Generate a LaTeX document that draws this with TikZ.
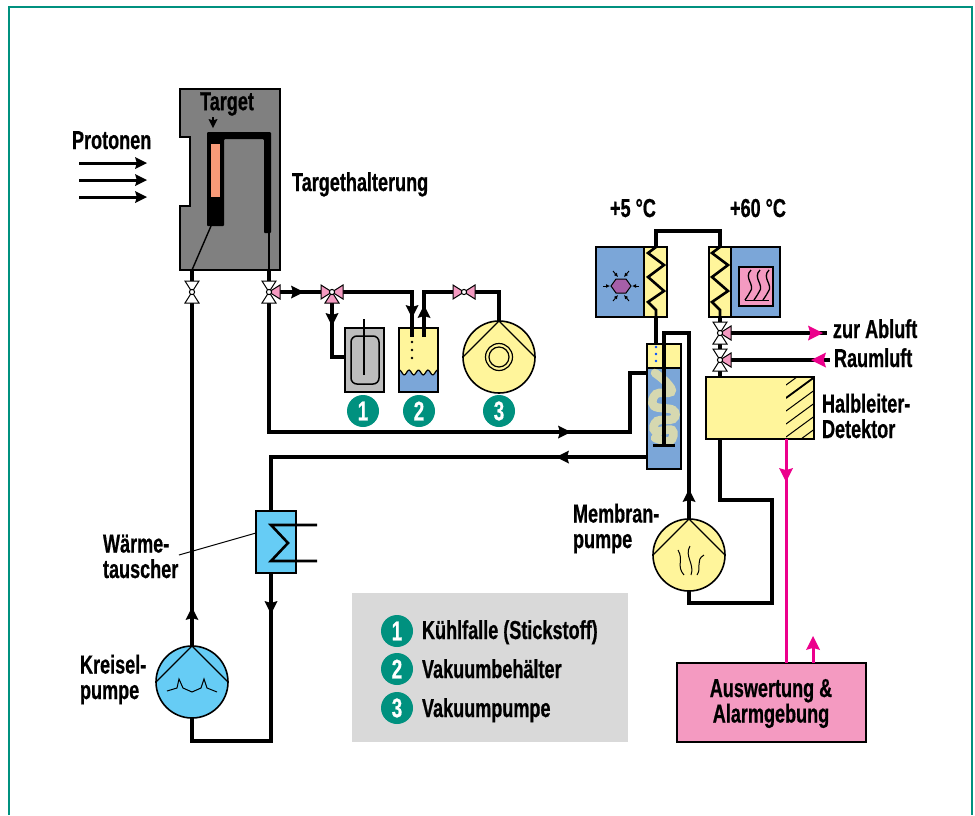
\documentclass[tikz,border=0pt]{standalone}
\usepackage{fontspec}
\setmainfont[FakeStretch=0.695,BoldFeatures={FakeBold=0.6}]{Liberation Sans}
\usetikzlibrary{arrows.meta}
\definecolor{teal1}{HTML}{00917F}
\definecolor{gray1}{HTML}{808080}
\definecolor{gray2}{HTML}{BDBDBD}
\definecolor{gray3}{HTML}{D9D9D9}
\definecolor{yell}{HTML}{FFF59B}
\definecolor{blue1}{HTML}{7BA6D8}
\definecolor{cyan1}{HTML}{66CCF5}
\definecolor{pink1}{HTML}{F49AC1}
\definecolor{mag}{HTML}{EC008C}
\definecolor{salmon1}{HTML}{F79A78}
\definecolor{purp}{HTML}{A55FA8}
\definecolor{coil}{HTML}{D6D8B0}
\tikzset{
  box/.style={draw=black,line width=1.8pt,rectangle,inner sep=0pt,outer sep=0pt},
  pipe/.style={draw=black,line width=3.2pt,line cap=butt,line join=miter},
  thinl/.style={draw=black,line width=1.4pt},
  lbl/.style={font=\fontsize{26}{25.5}\selectfont\bfseries,inner sep=0pt,outer sep=0pt,text=black},
  badge/.style={circle,fill=teal1,minimum size=32pt,inner sep=0pt,text=white,font=\fontsize{27}{27}\selectfont\bfseries},
  pump/.style={circle,draw=black,line width=1.6pt,minimum size=72pt,inner sep=0pt,outer sep=0pt},
  vtri/.style={draw=black,line width=1pt,line join=miter},
}
\newcommand{\ahead}[4][black]{\fill[#1,shift={(#2)},rotate=#3] (0,0) -- (-#4,-#4/2) -- (-#4*0.85,0) -- (-#4,#4/2) -- cycle;}
\newcommand{\vt}[3]{\filldraw[vtri,fill=#3,shift={(#1)},rotate=#2] (0,0) -- (11,-7) -- (11,7) -- cycle;}
\newcommand{\vc}[1]{\filldraw[draw=black,line width=1pt,fill=white] (#1) circle (2.6pt);}
\begin{document}
\begin{tikzpicture}[x=1pt,y=-1pt]
\useasboundingbox (0,0) rectangle (975,815);
\fill[white] (0,0) rectangle (975,815);
\draw[teal1,line width=2pt] (9,815) -- (9,6.5) -- (971.5,6.5) -- (971.5,815);

% legend panel
\node[fill=gray3,minimum width=276pt,minimum height=149pt,inner sep=0pt] (legend) at (490,667.5) {};

% target holder
\filldraw[draw=black,line width=1.6pt,fill=gray1] (180,89) -- (280,89) -- (280,270) -- (180,270) -- (180,206) -- (190,206) -- (190,137) -- (180,137) -- cycle;
\fill[black,rounded corners=1pt] (207,226) -- (207,132) -- (271,132) -- (271,233) -- (264,233) -- (264,139) -- (224,139) -- (224,226) -- cycle;
\fill[salmon1] (211,144) rectangle (220,197);
\node[lbl] (tTarget) at (227,104) {Target};
\coordinate (tgtTop) at (213,117);
\coordinate (tgtBot) at (213,124);
\draw[black,line width=2pt] (tgtTop) -- (tgtBot);
\ahead{213,128}{-90}{9}
\node[lbl,anchor=base west] (tProt) at (72,149) {Protonen};
\foreach \yy/\nn in {163/a,180/b,197/c}{
  \coordinate (pr\nn s) at (79,\yy);
  \coordinate (pr\nn e) at (137,\yy);
  \draw[black,line width=3pt] (pr\nn s) -- (pr\nn e);
  \ahead{147,\yy}{0}{12}
}
\node[lbl,anchor=base west] (tHalter) at (292,191) {Targethalterung};

% valve positions
\coordinate (v1) at (192,292);
\coordinate (v2) at (269,292);
\coordinate (v3) at (332,292);
\coordinate (v4) at (464,292);
\coordinate (v5) at (720,333);
\coordinate (v6) at (720,360);

% equipment boxes
\node[box,fill=gray2,minimum width=39pt,minimum height=64pt] (trap) at (364.5,360) {};
\node[box,fill=yell,minimum width=39pt,minimum height=64pt] (vessel) at (418.5,360) {};
\node[pump,fill=yell] (vpump) at (499,357) {};
\node[box,fill=blue1,minimum width=34pt,minimum height=125pt] (tube) at (664,406.5) {};
\node[box,fill=blue1,minimum width=71pt,minimum height=70pt] (cooler) at (631.5,282) {};
\node[box,fill=blue1,minimum width=71pt,minimum height=70pt] (heater) at (744.5,282) {};
\node[box,fill=yell,minimum width=108pt,minimum height=62pt] (det) at (760,408) {};
\node[box,fill=cyan1,minimum width=40pt,minimum height=62pt] (hx) at (276,542) {};
\node[pump,fill=cyan1] (kpump) at (192,682) {};
\node[pump,fill=yell] (mpump) at (689,555) {};
\node[box,fill=pink1,minimum width=189pt,minimum height=79pt,line width=2.2pt] (alarm) at (771.5,702.5) {};
\node[lbl,align=center] (tAlarm) at (771,703.5) {Auswertung \&\\Alarmgebung};

% pipes target circuit
\draw[pipe] (kpump.north) -- (v1) -- (v1 |- 0,270);
\draw[thinl] (192,270) -- (211,226);
\draw[pipe] (v2) -- (269,270);
\draw[thinl] (269,270) -- (269,233);
\draw[pipe] (kpump.south) -- (192,741) -- (271,741) -- (hx.south -| 271,0);
\draw[pipe] (271,511) -- (271,457) -- (tube.west |- 0,457);
\draw[pipe] (v2) -- (269,432) -- (630,432) -- (630,373) -- (tube.west |- 0,373);
\ahead{192,607}{90}{13}
\ahead{271,614}{-90}{13}
\ahead{571,432}{0}{13}
\ahead{556,457}{180}{13}
% heat exchanger coil and leader
\draw[black,line width=2.6pt,line join=miter] (317,525) -- (271,525) -- (288,543) -- (271,561) -- (317,561);
\draw[thinl,line width=1pt] (hx.west |- 0,533) -- (179,555);

% vacuum branch
\draw[pipe] (v2) -- (v3) -- (412,292) -- (412,337);
\draw[pipe] (v3) -- (332,357) -- (trap.west |- 0,357);
\draw[pipe] (424,337) -- (424,292) -- (v4) -- (499,292) -- (vpump.north);
\ahead{304,292}{0}{13}
\ahead{332,326}{-90}{13}
\ahead{412,318}{-90}{13}
\ahead{424,305}{90}{13}

% trap internals
\draw[black,line width=1.5pt,rounded corners=6pt] (351,336) rectangle (379,384);
\draw[black,line width=1.2pt] (364,319) -- (364,375);
% vessel contents
\fill[blue1] (399.5,391) -- plot[domain=399.5:437.5,samples=60] (\x,{372.5-2.4*cos(360*(\x-399.5)/9.5)}) -- (437.5,391) -- cycle;
\draw[black,line width=1.2pt] plot[domain=399.5:437.5,samples=60] (\x,{372.5-2.4*cos(360*(\x-399.5)/9.5)});
\foreach \yy in {342,350,358} \fill[black] (412,\yy) circle (1.3pt);
\draw[box] (399,328) rectangle (438,392);
% vacuum pump details
\draw[black,line width=1.3pt] (vpump.west) -- (vpump.north) -- (vpump.east);
\draw[black,line width=1.2pt] (vpump.center) circle (13.5pt) (vpump.center) circle (10pt);
% kreisel pump details
\draw[black,line width=1.3pt] (kpump.west) -- (kpump.north) -- (kpump.east);
\draw[black,line width=1pt] (167,691) -- (177,688) -- (179,679) -- (183,688) -- (192,692) -- (201,688) -- (204,679) -- (207,688) -- (217,692);
% membrane pump details
\draw[black,line width=1.3pt] (mpump.west) -- (mpump.north) -- (mpump.east);
\draw[black,line width=1pt] (678,550) .. controls (684,560) and (676,566) .. (684,575);
\draw[black,line width=1pt] (690,546) .. controls (684,556) and (695,564) .. (691,575);
\draw[black,line width=1pt] (704,555) .. controls (695,560) and (702,568) .. (697,575);

% tube contents
\fill[yell] (647.8,344.8) rectangle (680.2,368);
\draw[black,line width=1.8pt] (647,368) -- (681,368);
\draw[coil,line width=8.5pt,line cap=round] plot[smooth,tension=0.7] coordinates {(655,373) (667,383) (671,392) (656,394) (654,406) (673,410) (673,419) (657,421) (655,431) (672,430) (670,441) (655,438)};
\foreach \yy in {347,354,361} \fill[blue!70!cyan] (656,\yy) circle (1.4pt);
\draw[pipe] (cooler.south -| 656,0) -- (656,344);
\draw[pipe] (664,445) -- (664,333) -- (689,333) -- (mpump.north);
\draw[black,line width=3pt] (653,445) -- (675,445);
\ahead{689,489}{90}{13}
\draw[pipe] (mpump.south) -- (689,603) -- (772,603) -- (772,500) -- (720,500) -- (det.south -| 720,0);

% cooler and heater
\fill[yell] (644,247.8) rectangle (666.2,316.2);
\draw[black,line width=1.8pt] (644,247) -- (644,317);
\fill[yell] (709.8,247.8) rectangle (731,316.2);
\draw[black,line width=1.8pt] (731,247) -- (731,317);
\draw[pipe] (cooler.north -| 656,0) -- (656,231) -- (720,231) -- (heater.north -| 720,0);
\foreach \cx in {656,720}{
  \draw[black,line width=2.6pt,line join=miter] (\cx,247) -- (\cx-8,253) -- (\cx+8,265) -- (\cx-8,277) -- (\cx+8,291) -- (\cx-8,302) -- (\cx,310) -- (\cx,317);
}
\filldraw[draw=black,line width=1pt,fill=purp] (611,286) -- (616,279) -- (626,279) -- (631,286) -- (626,293) -- (616,293) -- cycle;
\draw[-{Latex[length=4pt,width=4pt]},black,line width=0.9pt] (603,286) -- (610,286);
\draw[-{Latex[length=4pt,width=4pt]},black,line width=0.9pt] (639,286) -- (632,286);
\draw[-{Latex[length=4pt,width=4pt]},black,line width=0.9pt] (613,271) -- (618,277);
\draw[-{Latex[length=4pt,width=4pt]},black,line width=0.9pt] (629,271) -- (624,277);
\draw[-{Latex[length=4pt,width=4pt]},black,line width=0.9pt] (613,301) -- (618,295);
\draw[-{Latex[length=4pt,width=4pt]},black,line width=0.9pt] (629,301) -- (624,295);
\filldraw[draw=black,line width=1.8pt,fill=pink1] (739,267) rectangle (773,306);
\foreach \d in {0,9,18}{
  \draw[black,line width=1.3pt] (751+\d,270) .. controls (743+\d,278) and (756+\d,285) .. (750+\d,292) .. controls (748+\d,296) and (746+\d,298) .. (745+\d,300);
}
\draw[black,line width=1.6pt] (745,300.5) -- (769,300.5);

% detector and air valves
\draw[pipe] (heater.south -| 720,0) -- (v5) -- (v6) -- (det.north -| 720,0);
\begin{scope}
\clip (786,378) rectangle (813.2,438.2);
\foreach \c in {0,13,...,104}{
  \draw[black,line width=1pt] (786,372+\c) -- (816,350+\c);
}
\draw[black,line width=1.8pt] (786,398) -- (816,376);
\end{scope}
\node[lbl,anchor=base west,align=left] (tHalb) at (822,438) {Halbleiter-\\Detektor};
\coordinate (abl) at (827,333);
\coordinate (rml) at (830,360);
\draw[pipe] (v5) -- (abl);
\draw[pipe] (v6) -- (rml);
\ahead[mag]{823,333}{0}{15}
\ahead[mag]{811,360}{180}{15}
\node[lbl,anchor=base west] (tAbl) at (833,338) {zur Abluft};
\node[lbl,anchor=base west] (tRaum) at (834,367) {Raumluft};

% signal lines
\draw[mag,line width=3pt] (786,439) -- (786,663);
\ahead[mag]{786,482}{-90}{14}
\coordinate (asig) at (813,663);
\coordinate (asige) at (813,648);
\draw[mag,line width=3pt] (asig) -- (asige);
\ahead[mag]{813,636}{90}{14}

% valves
\vt{v1}{-90}{white}\vt{v1}{90}{white}\vc{v1}
\vt{v2}{-90}{white}\vt{v2}{90}{white}\vt{v2}{0}{pink1}\vc{v2}
\vt{v3}{0}{pink1}\vt{v3}{180}{pink1}\vt{v3}{-90}{pink1}\vc{v3}
\vt{v4}{0}{pink1}\vt{v4}{180}{pink1}\vc{v4}
\vt{v5}{-90}{white}\vt{v5}{90}{white}\vt{v5}{0}{pink1}\vc{v5}
\vt{v6}{-90}{white}\vt{v6}{90}{white}\vt{v6}{0}{pink1}\vc{v6}

% badges
\node[badge] (b1) at (363,411) {1};
\node[badge] (b2) at (419,411) {2};
\node[badge] (b3) at (499,411) {3};
\node[badge] (l1) at (397,631) {1};
\node[badge] (l2) at (397,669) {2};
\node[badge] (l3) at (397,708) {3};
\node[lbl,anchor=base west] (t1) at (422,639) {Kühlfalle (Stickstoff)};
\node[lbl,anchor=base west] (t2) at (422,678) {Vakuumbehälter};
\node[lbl,anchor=base west] (t3) at (422,717) {Vakuumpumpe};

% other labels
\node[lbl,anchor=base west] (tp5) at (610,217) {+5 °C};
\node[lbl,anchor=base west] (tp60) at (730,217) {+60 °C};
\node[lbl,anchor=base west,align=left] (tMem) at (573,548) {Membran-\\pumpe};
\node[lbl,anchor=base west,align=left] (tW) at (103,578) {Wärme-\\tauscher};
\node[lbl,anchor=base west,align=left] (tK) at (80,699) {Kreisel-\\pumpe};
\end{tikzpicture}
\end{document}
